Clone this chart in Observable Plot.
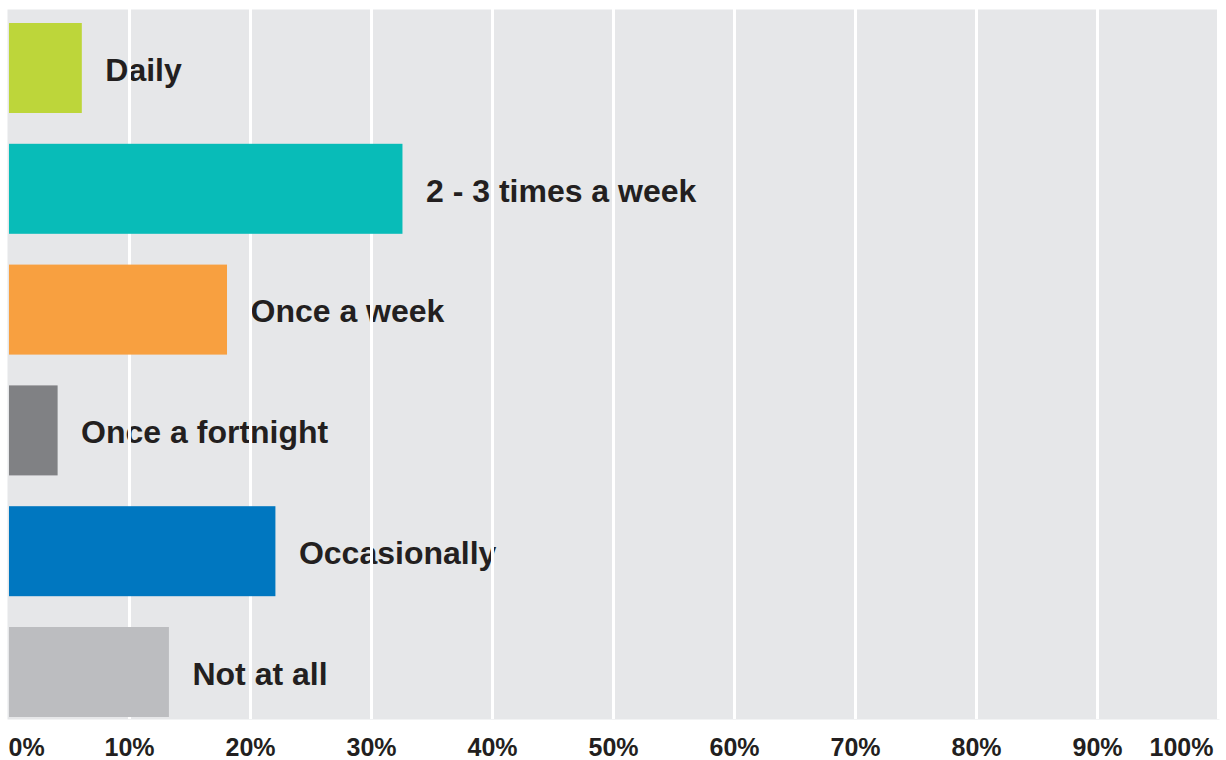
<!DOCTYPE html>
<html>
<head>
<meta charset="utf-8">
<script src="https://cdn.jsdelivr.net/npm/d3@7"></script>
<script src="https://cdn.jsdelivr.net/npm/@observablehq/plot@0.6"></script>
<style>
  html, body { margin: 0; padding: 0; background: #fff; }
  svg { display: block; }
</style>
</head>
<body>
<div id="chart"></div>
<script>
const categories = ["Daily", "2 - 3 times a week", "Once a week", "Once a fortnight", "Occasionally", "Not at all"];
const values = [6.1, 32.6, 18.1, 4.1, 22.1, 13.3];
const colors = ["#bdd63a", "#08bcb8", "#f8a040", "#808184", "#0077c0", "#bcbdc0"];
const tickValues = [0, 10, 20, 30, 40, 50, 60, 70, 80, 90, 100];
const tickLabels = tickValues.map(v => v + "%");

const data = categories.map((c, i) => ({category: c, value: values[i], color: colors[i]}));
const midTicks = tickValues.filter(v => v > 0 && v < 100);
const font = "'Liberation Sans', Arial, Helvetica, sans-serif";

const chart = Plot.plot({
  width: 1226,
  height: 760,
  marginLeft: 8,
  marginRight: 8,
  marginTop: 23,
  marginBottom: 43,
  style: {fontFamily: font, background: "#fff", overflow: "visible"},
  x: {domain: [0, 100], axis: null},
  y: {domain: categories, axis: null, paddingInner: 0.255, paddingOuter: 0, round: false},
  marks: [
    Plot.frame({fill: "#e6e7e9", stroke: null, insetTop: -14, insetBottom: -2, insetLeft: -1, insetRight: -1}),
    Plot.text(data, {
      x: "value", y: "category", text: "category",
      textAnchor: "start", dx: 23, dy: 2, fontSize: 32, fontWeight: "bold", fill: "#231f20"
    }),
    Plot.ruleX(midTicks.concat([100]), {x: d => d, stroke: "#ffffff", strokeWidth: 3, insetTop: -14, insetBottom: -2}),
    Plot.barX(data, {
      x1: 0, x2: "value", y: "category", fill: d => d.color, insetLeft: 1
    }),
    Plot.text([0], {
      x: d => d, text: d => tickLabels[tickValues.indexOf(d)],
      frameAnchor: "bottom", dy: 30, textAnchor: "start", lineAnchor: "middle",
      fontSize: 25, fontWeight: "bold", fill: "#231f20"
    }),
    Plot.text(midTicks, {
      x: d => d, text: d => tickLabels[tickValues.indexOf(d)],
      frameAnchor: "bottom", dy: 30, textAnchor: "middle", lineAnchor: "middle",
      fontSize: 25, fontWeight: "bold", fill: "#231f20"
    }),
    Plot.text([100], {
      x: d => d, text: d => tickLabels[tickValues.indexOf(d)],
      frameAnchor: "bottom", dy: 30, dx: -5, textAnchor: "end", lineAnchor: "middle",
      fontSize: 25, fontWeight: "bold", fill: "#231f20"
    })
  ]
});
document.getElementById("chart").appendChild(chart);
</script>
</body>
</html>
